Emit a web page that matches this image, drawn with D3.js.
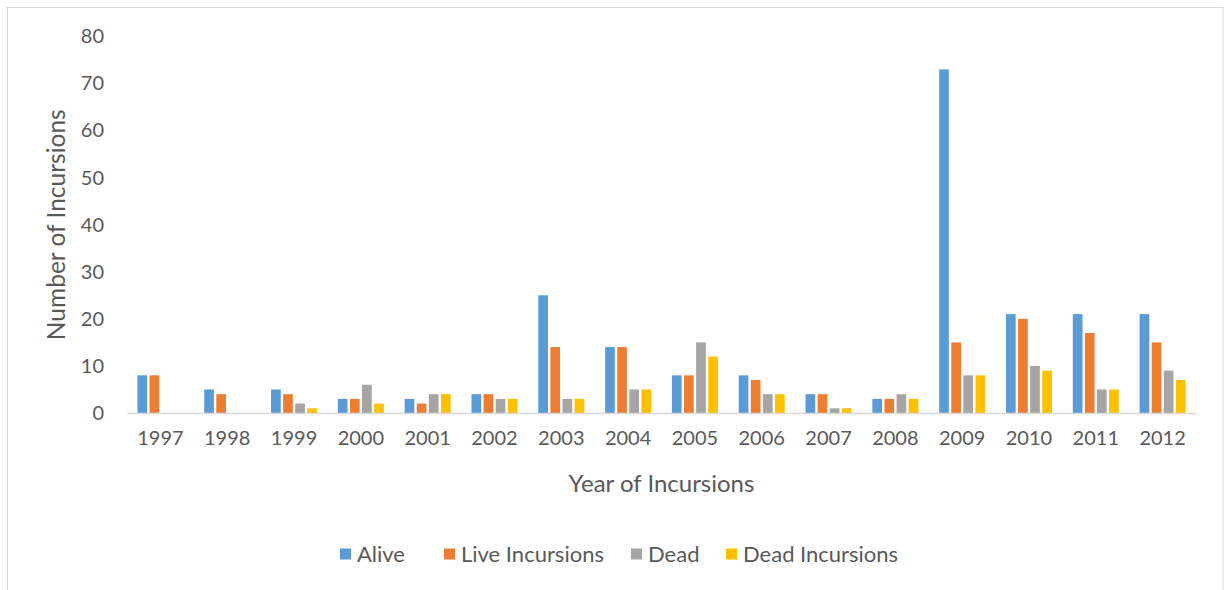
<!DOCTYPE html>
<html>
<head>
<meta charset="utf-8">
<script src="https://cdn.jsdelivr.net/npm/d3@7"></script>
<style>
  html, body { margin: 0; padding: 0; background: #fff; }
  svg { display: block; font-family: Lato, "Open Sans", sans-serif; }
</style>
</head>
<body>
<svg id="chart" width="1225" height="590"></svg>
<script>
const years = ["1997","1998","1999","2000","2001","2002","2003","2004","2005","2006","2007","2008","2009","2010","2011","2012"];
const seriesNames = ["Alive", "Live Incursions", "Dead", "Dead Incursions"];
const alive          = [8, 5, 5, 3, 3, 4, 25, 14, 8, 8, 4, 3, 73, 21, 21, 21];
const liveIncursions = [8, 4, 4, 3, 2, 4, 14, 14, 8, 7, 4, 3, 15, 20, 17, 15];
const dead           = [0, 0, 2, 6, 4, 3, 3, 5, 15, 4, 1, 4, 8, 10, 5, 9];
const deadIncursions = [0, 0, 1, 2, 4, 3, 3, 5, 12, 4, 1, 3, 8, 9, 5, 7];
const yTicks = [0, 10, 20, 30, 40, 50, 60, 70, 80];
const colors = ["#5B9BD5", "#ED7D31", "#A5A5A5", "#FFC000"];

const seriesValues = [alive, liveIncursions, dead, deadIncursions];
const rows = years.map((y, i) => ({ year: y, values: seriesNames.map((s, k) => ({ key: s, value: seriesValues[k][i] })) }));

const svg = d3.select("#chart");
const textColor = "#595959";

// outer chart border
svg.append("rect").attr("x", 7.5).attr("y", 7.5).attr("width", 1215.5).attr("height", 600)
  .attr("fill", "none").attr("stroke", "#d9d9d9").attr("stroke-width", 1);

const plot = { left: 127, right: 1196, top: 36.4, bottom: 413 };

const x0 = d3.scaleBand().domain(years).range([plot.left, plot.right]).padding(0);
const x1 = d3.scaleBand().domain(seriesNames).range([-23, 23]).paddingInner(0.2).paddingOuter(0);
const y = d3.scaleLinear().domain([0, 80]).range([plot.bottom, plot.top]);
const color = d3.scaleOrdinal().domain(seriesNames).range(colors);

// y axis labels (no line)
const yAxis = d3.axisLeft(y).tickValues(yTicks).tickSize(0).tickPadding(0);
const gy = svg.append("g").attr("transform", `translate(104,0)`).call(yAxis);
gy.select(".domain").remove();
gy.selectAll("text").attr("fill", textColor).style("font-size", "20px").style("font-family", "Lato, sans-serif");

// bars
const groups = svg.append("g").selectAll("g").data(rows).join("g")
  .attr("transform", d => `translate(${x0(d.year) + x0.bandwidth() / 2},0)`);
groups.selectAll("rect").data(d => d.values.filter(v => v.value > 0)).join("rect")
  .attr("x", d => x1(d.key))
  .attr("width", x1.bandwidth())
  .attr("y", d => y(d.value))
  .attr("height", d => y(0) - y(d.value))
  .attr("fill", d => color(d.key));

// x axis
const xAxis = d3.axisBottom(x0).tickSize(0).tickPadding(0);
const gx = svg.append("g").attr("transform", `translate(0,${plot.bottom})`).call(xAxis);
gx.select(".domain").attr("stroke", "#d9d9d9").attr("stroke-width", 1.5);
gx.selectAll("text").attr("fill", textColor).attr("dy", null).attr("y", 32)
  .style("font-size", "20px").style("font-family", "Lato, sans-serif");

// axis titles
svg.append("text").attr("x", (plot.left + plot.right) / 2).attr("y", 492)
  .attr("text-anchor", "middle").attr("fill", textColor).style("font-size", "24px")
  .text("Year of Incursions");
svg.append("text").attr("transform", `translate(65,${(plot.top + plot.bottom) / 2}) rotate(-90)`)
  .attr("text-anchor", "middle").attr("fill", textColor).style("font-size", "24.5px")
  .text("Number of Incursions");

// legend
const legendX = [340, 444, 631, 726];
const legend = svg.append("g").selectAll("g").data(seriesNames).join("g")
  .attr("transform", (d, i) => `translate(${legendX[i]},554)`);
legend.append("rect").attr("x", 0).attr("y", -5.5).attr("width", 11).attr("height", 11).attr("fill", d => color(d));
legend.append("text").attr("x", 17).attr("y", 0).attr("dy", "0.35em").attr("fill", textColor)
  .style("font-size", "22px").text(d => d);
</script>
</body>
</html>
